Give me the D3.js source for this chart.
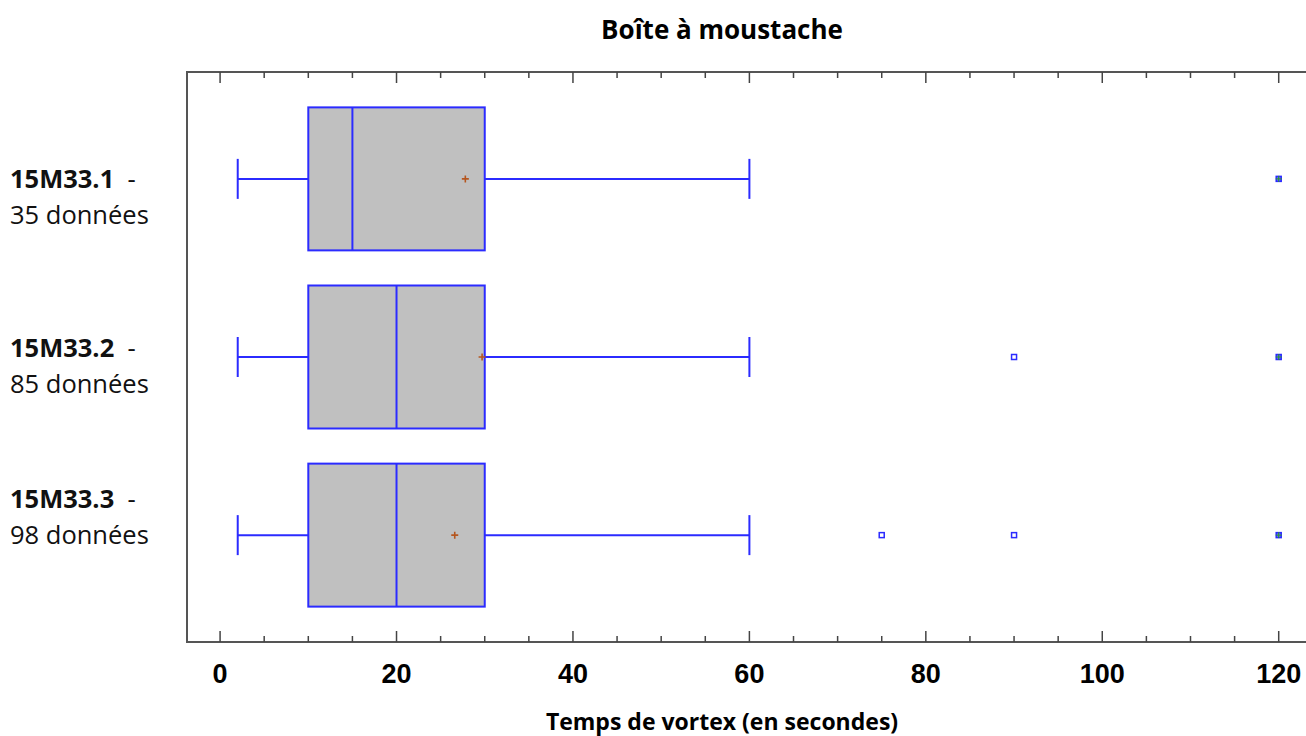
<!DOCTYPE html>
<html>
<head>
<meta charset="utf-8">
<script src="https://cdn.jsdelivr.net/npm/d3@7"></script>
<style>
  body { margin: 0; background: #fff; }
  svg { display: block; }
</style>
</head>
<body>
<div id="chart"></div>
<script>
// data
var groups = ["15M33.1", "15M33.2", "15M33.3"];
var counts = [35, 85, 98];
var whiskerLow = [2, 2, 2];
var q1 = [10, 10, 10];
var medians = [15, 20, 20];
var q3 = [30, 30, 30];
var whiskerHigh = [60, 60, 60];
var means = [27.8, 29.7, 26.6];
var outliers = [[], [90], [75, 90]];
var farOutliers = [[120], [120], [120]];
var xTicks = [0, 20, 40, 60, 80, 100, 120];

// layout: the labels on the left are not placed evenly in the original
var labelDy = [9, 0, -27];

var width = 1306, height = 736;
var plot = {left: 187, top: 72, bottom: 642, right: 1314};

var svg = d3.select("#chart").append("svg")
    .attr("width", width)
    .attr("height", height);

var x = d3.scaleLinear()
    .domain([-3.75, 124])
    .range([plot.left, plot.right]);

var y = d3.scalePoint()
    .domain(groups)
    .range([plot.top, plot.bottom])
    .padding(0.6);

var boxH = 143, capH = 40;
var blue = "#2b2bff";
var textFont = "'Open Sans', 'Noto Sans', sans-serif";

// frame (right side runs off the page)
svg.append("path")
    .attr("d", "M" + plot.right + "," + plot.top + "H" + plot.left + "V" + plot.bottom + "H" + plot.right)
    .attr("fill", "none")
    .attr("stroke", "#555")
    .attr("stroke-width", 2);

// ticks every 5, long on the labelled ones
var allTicks = d3.range(0, 125, 5);
var tickLen = function (d) { return d % 20 === 0 ? 11 : 6; };
svg.selectAll(".tickTop").data(allTicks).enter().append("line")
    .attr("x1", function (d) { return x(d); })
    .attr("x2", function (d) { return x(d); })
    .attr("y1", plot.top)
    .attr("y2", function (d) { return plot.top + tickLen(d); })
    .attr("stroke", "#444").attr("stroke-width", 1.5);
svg.selectAll(".tickBottom").data(allTicks).enter().append("line")
    .attr("x1", function (d) { return x(d); })
    .attr("x2", function (d) { return x(d); })
    .attr("y1", plot.bottom)
    .attr("y2", function (d) { return plot.bottom - tickLen(d); })
    .attr("stroke", "#444").attr("stroke-width", 1.5);

svg.selectAll(".tickLabel").data(xTicks).enter().append("text")
    .attr("x", function (d) { return x(d); })
    .attr("y", 683)
    .attr("text-anchor", "middle")
    .style("font-family", "'Liberation Sans', Arial, sans-serif")
    .style("font-weight", "bold")
    .style("font-size", "27px")
    .text(function (d) { return d; });

// boxes
var g = svg.selectAll(".box").data(groups).enter().append("g")
    .attr("transform", function (d) { return "translate(0," + y(d) + ")"; });

g.append("line")
    .attr("x1", function (d, i) { return x(whiskerLow[i]); })
    .attr("x2", function (d, i) { return x(q1[i]); })
    .attr("stroke", blue).attr("stroke-width", 2);
g.append("line")
    .attr("x1", function (d, i) { return x(q3[i]); })
    .attr("x2", function (d, i) { return x(whiskerHigh[i]); })
    .attr("stroke", blue).attr("stroke-width", 2);
g.append("line")
    .attr("x1", function (d, i) { return x(whiskerLow[i]); })
    .attr("x2", function (d, i) { return x(whiskerLow[i]); })
    .attr("y1", -capH / 2).attr("y2", capH / 2)
    .attr("stroke", blue).attr("stroke-width", 2);
g.append("line")
    .attr("x1", function (d, i) { return x(whiskerHigh[i]); })
    .attr("x2", function (d, i) { return x(whiskerHigh[i]); })
    .attr("y1", -capH / 2).attr("y2", capH / 2)
    .attr("stroke", blue).attr("stroke-width", 2);
g.append("rect")
    .attr("x", function (d, i) { return x(q1[i]); })
    .attr("width", function (d, i) { return x(q3[i]) - x(q1[i]); })
    .attr("y", -boxH / 2)
    .attr("height", boxH)
    .attr("fill", "#c0c0c0")
    .attr("stroke", blue).attr("stroke-width", 2);
g.append("line")
    .attr("x1", function (d, i) { return x(medians[i]); })
    .attr("x2", function (d, i) { return x(medians[i]); })
    .attr("y1", -boxH / 2).attr("y2", boxH / 2)
    .attr("stroke", blue).attr("stroke-width", 2);

// mean crosses
g.append("path")
    .attr("d", function (d, i) { var m = x(means[i]); return "M" + (m - 3.5) + ",0H" + (m + 3.5) + "M" + m + ",-3.5V3.5"; })
    .attr("stroke", "#b5561f").attr("stroke-width", 1.6);

// outliers
g.each(function (d, i) {
    var sel = d3.select(this);
    sel.selectAll(".out").data(outliers[i]).enter().append("rect")
        .attr("x", function (v) { return x(v) - 2.5; })
        .attr("y", -2.5).attr("width", 5).attr("height", 5)
        .attr("fill", "none").attr("stroke", blue).attr("stroke-width", 1.5);
    var far = sel.selectAll(".far").data(farOutliers[i]).enter().append("g");
    far.append("rect")
        .attr("x", function (v) { return x(v) - 2.5; })
        .attr("y", -2.5).attr("width", 5).attr("height", 5)
        .attr("fill", "#6a6aff").attr("stroke", blue).attr("stroke-width", 1.5);
    far.append("path")
        .attr("d", function (v) { return "M" + (x(v) - 3) + ",0H" + (x(v) + 3) + "M" + x(v) + ",-3V3"; })
        .attr("stroke", "#2a9a2a").attr("stroke-width", 1);
});

// left labels
var lab = svg.selectAll(".lab").data(groups).enter().append("text")
    .attr("x", 10)
    .style("font-family", textFont)
    .style("font-size", "25.5px")
    .attr("fill", "#111");
lab.append("tspan")
    .attr("y", function (d, i) { return y(d) + labelDy[i]; })
    .style("font-weight", "bold")
    .text(function (d) { return d; });
lab.append("tspan")
    .text("\u00a0\u00a0-");
lab.append("tspan")
    .attr("x", 10)
    .attr("dy", 36)
    .text(function (d, i) { return counts[i] + " données"; });

// titles
svg.append("text")
    .attr("x", 722).attr("y", 39)
    .attr("text-anchor", "middle")
    .style("font-family", textFont)
    .style("font-weight", "bold")
    .style("font-size", "26px")
    .text("Boîte à moustache");

svg.append("text")
    .attr("x", 722).attr("y", 730)
    .attr("text-anchor", "middle")
    .style("font-family", textFont)
    .style("font-weight", "bold")
    .style("font-size", "23px")
    .text("Temps de vortex (en secondes)");
</script>
</body>
</html>
